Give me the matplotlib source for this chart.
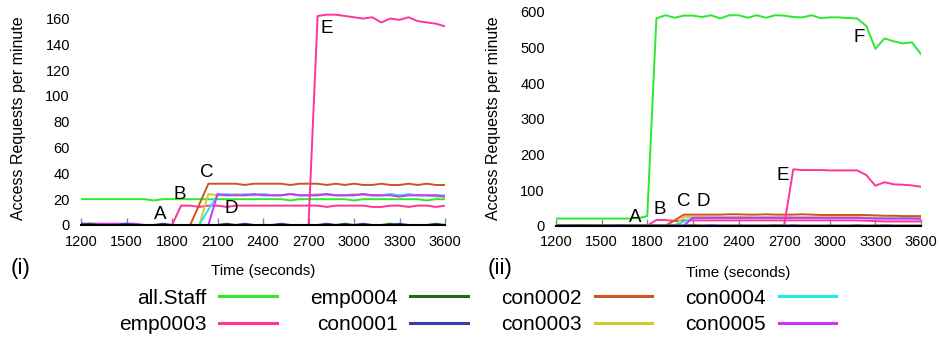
import numpy as np
import matplotlib
matplotlib.use('Agg')
import matplotlib.pyplot as plt

plt.rcParams['font.family'] = ['Liberation Sans', 'DejaVu Sans']

# time axis, one sample per minute
t = np.arange(1200, 3601, 60)
xticks = [1200, 1500, 1800, 2100, 2400, 2700, 3000, 3300, 3600]

# ---- panel (i) ----
staff_i = [20, 20, 20, 20, 20, 20, 20, 20, 19, 20, 20, 20, 20, 20, 20, 20, 20, 20, 20, 20,
           20, 20, 20, 19, 20, 20, 20, 20, 20, 20, 19, 20, 20, 20, 20, 20, 20, 20, 19, 20, 20]
emp3b_i = [0, 0, 0, 0, 0, 0, 0, 0, 0, 0, 0, 15, 15, 14, 15, 15, 14, 15, 15, 15,
           15, 15, 15, 15, 15, 15, 15, 14, 15, 15, 15, 15, 14, 14, 15, 15, 14, 15, 15, 14, 15]
emp3e_i = [0, 0, 0, 0, 0, 0, 0, 0, 0, 0, 0, 0, 0, 0, 0, 0, 0, 0, 0, 0,
           0, 0, 0, 0, 0, 0, 162, 163, 163, 162, 161, 160, 161, 157, 160, 159, 161, 158, 157, 156, 154]
emp4_i = [0, 1, 0, 0, 0, 0, 0, 0, 0, 0, 0, 0, 0, 0, 0, 0, 1, 0, 0, 0,
          0, 0, 0, 0, 0, 0, 0, 0, 0, 1, 0, 0, 0, 0, 1, 0, 0, 0, 0, 1, 0]
con1_i = [1, 0, 0, 0, 0, 1, 0, 0, 0, 1, 0, 0, 0, 0, 0, 0, 0, 0, 1, 0,
          0, 0, 1, 0, 0, 0, 0, 1, 0, 0, 0, 1, 0, 0, 0, 1, 0, 0, 0, 0, 0]
con2_i = [0, 0, 0, 0, 0, 0, 0, 0, 0, 0, 0, 0, 0, 16, 32, 32, 32, 32, 31, 32,
          32, 32, 32, 31, 32, 32, 32, 31, 32, 31, 32, 31, 31, 32, 31, 31, 32, 31, 32, 31, 31]
con3_i = [0, 0, 0, 0, 0, 0, 0, 0, 0, 0, 0, 0, 0, 0, 24, 23, 23, 24, 23, 23,
          24, 23, 23, 24, 23, 23, 24, 23, 23, 23, 24, 23, 23, 23, 24, 23, 23, 23, 23, 22, 22]
con4_i = [1, 1, 0, 0, 0, 0, 0, 0, 0, 0, 0, 0, 0, 0, 12, 23, 24, 23, 24, 23,
          24, 23, 23, 24, 23, 23, 23, 24, 23, 23, 23, 24, 23, 23, 24, 23, 24, 23, 23, 23, 23]
con5_i = [1, 1, 1, 1, 1, 1, 1, 0, 0, 0, 0, 0, 0, 0, 0, 24, 23, 23, 23, 24,
          23, 23, 23, 24, 23, 23, 23, 24, 23, 23, 23, 24, 23, 23, 23, 22, 23, 23, 23, 23, 22]

# ---- panel (ii) ----
staff_ii = [20, 20, 20, 20, 20, 20, 20, 20, 20, 21, 27, 581, 590, 583, 589, 589, 585, 590, 581, 590,
            590, 583, 590, 583, 590, 589, 585, 584, 590, 582, 584, 584, 582, 581, 560, 496, 525, 517, 511, 514, 481]
emp3b_ii = [0, 0, 0, 0, 0, 0, 0, 0, 0, 0, 0, 16, 16, 13, 15, 15, 15, 15, 15, 15,
            15, 15, 15, 15, 15, 15, 15, 15, 15, 15, 15, 15, 15, 15, 14, 13, 12, 12, 12, 12, 12]
emp3e_ii = [0, 0, 0, 0, 0, 0, 0, 0, 0, 0, 0, 0, 0, 0, 0, 0, 0, 0, 0, 0,
            0, 0, 0, 0, 0, 0, 158, 156, 156, 156, 155, 155, 155, 155, 142, 112, 122, 116, 115, 113, 109]
emp4_ii = [0, 0, 0, 1, 0, 0, 0, 0, 0, 0, 0, 0, 0, 0, 0, 1, 0, 0, 0, 0,
           0, 0, 0, 0, 1, 0, 0, 0, 0, 0, 0, 0, 0, 1, 0, 0, 0, 0, 0, 0, 0]
con1_ii = [0, 0, 1, 0, 0, 0, 0, 1, 0, 0, 0, 0, 0, 0, 0, 0, 0, 1, 0, 0,
           0, 0, 0, 0, 0, 0, 1, 0, 0, 0, 0, 0, 0, 0, 0, 0, 1, 0, 0, 0, 0]
con2_ii = [0, 0, 0, 0, 0, 0, 0, 0, 0, 0, 0, 0, 0, 15, 31, 31, 31, 31, 31, 32,
           32, 31, 31, 32, 31, 31, 31, 32, 31, 30, 30, 30, 30, 30, 30, 29, 28, 28, 27, 27, 27]
con3_ii = [0, 0, 0, 0, 0, 0, 0, 0, 0, 0, 0, 0, 0, 0, 24, 24, 25, 24, 24, 24,
           25, 24, 24, 24, 24, 25, 24, 24, 24, 24, 24, 24, 24, 24, 23, 23, 23, 22, 22, 22, 22]
con4_ii = [0, 0, 0, 0, 0, 0, 0, 0, 0, 0, 0, 0, 0, 0, 11, 22, 22, 22, 23, 22,
           22, 22, 22, 23, 22, 22, 22, 22, 22, 22, 22, 22, 22, 22, 21, 21, 20, 20, 20, 20, 20]
con5_ii = [0, 0, 0, 0, 0, 0, 0, 0, 0, 0, 0, 0, 0, 0, 0, 22, 22, 22, 22, 22,
           22, 22, 22, 22, 22, 22, 22, 22, 22, 22, 22, 22, 22, 22, 21, 20, 20, 20, 20, 20, 19]

colors = {
    'all.Staff': '#2ee82e',
    'emp0003': '#ff3399',
    'emp0004': '#226622',
    'con0001': '#3340aa',
    'con0002': '#cc5522',
    'con0003': '#cccc33',
    'con0004': '#22e8e8',
    'con0005': '#cc33ff',
}

# annotation letters: (label, x, y)
notes_i = [('A', 1720, 8.5), ('B', 1853, 24), ('C', 2030, 41), ('D', 2190, 12.5), ('E', 2823, 152)]
notes_ii = [('A', 1724, 23), ('B', 1884, 46), ('C', 2037, 69), ('D', 2168, 69), ('E', 2688, 142), ('F', 3192, 529)]

fig = plt.figure(figsize=(9.4, 3.41), dpi=100)
ax1 = fig.add_axes([0.0862, 0.3402, 0.3872, 0.6243])
ax2 = fig.add_axes([0.5915, 0.3381, 0.3883, 0.6329])

panels = [
    (ax1, staff_i, emp3b_i, emp3e_i, emp4_i, con1_i, con2_i, con3_i, con4_i, con5_i, notes_i, 165, [0, 20, 40, 60, 80, 100, 120, 140, 160]),
    (ax2, staff_ii, emp3b_ii, emp3e_ii, emp4_ii, con1_ii, con2_ii, con3_ii, con4_ii, con5_ii, notes_ii, 605, [0, 100, 200, 300, 400, 500, 600]),
]

lw = 1.4
for ax, staff, e3b, e3e, e4, c1, c2, c3, c4, c5, notes, ytop, yt in panels:
    ax.plot(t, staff, color=colors['all.Staff'], lw=lw)
    ax.plot(t, e3b, color=colors['emp0003'], lw=lw)
    ax.plot(t, c3, color=colors['con0003'], lw=lw)
    ax.plot(t, c4, color=colors['con0004'], lw=lw)
    ax.plot(t, c5, color=colors['con0005'], lw=lw)
    ax.plot(t, c2, color=colors['con0002'], lw=lw)
    ax.plot(t, e3e, color=colors['emp0003'], lw=lw)
    ax.plot(t, e4, color=colors['emp0004'], lw=lw)
    ax.plot(t, c1, color=colors['con0001'], lw=lw)
    ax.axhline(0, color='#3a2a2a', lw=1.2)

    for txt, x, y in notes:
        ax.text(x, y, txt, fontsize=13.5, ha='center', va='center')

    ax.set_xlim(1200, 3600)
    ax.set_ylim(0, ytop)
    ax.set_xticks(xticks)
    ax.set_yticks(yt)
    for s in ['top', 'right', 'left']:
        ax.spines[s].set_visible(False)
    ax.spines['bottom'].set_color('black')
    ax.spines['bottom'].set_linewidth(1.5)
    ax.tick_params(axis='x', direction='in', length=5, width=1, color='#888888',
                   labelsize=10.5, pad=7)
    ax.tick_params(axis='y', length=0, labelsize=10.5, pad=8)
    ax.set_xlabel('Time (seconds)', fontsize=11)
    ax.xaxis.set_label_coords(0.5, -0.185)
    ax.set_ylabel('Access Requests per minute', fontsize=11.5)

ax1.yaxis.set_label_coords(-0.150, 0.5)
ax2.yaxis.set_label_coords(-0.152, 0.5)

fig.text(0.022, 0.214, '(i)', fontsize=16, ha='center', va='center')
fig.text(0.532, 0.214, '(ii)', fontsize=16, ha='center', va='center')

order = ['all.Staff', 'emp0003', 'emp0004', 'con0001', 'con0002', 'con0003', 'con0004', 'con0005']
handles = [plt.Line2D([], [], color=colors[k], lw=2.2) for k in order]
fig.legend(handles, order, loc='center', bbox_to_anchor=(0.508, 0.0865), ncol=4,
           frameon=False, markerfirst=False, fontsize=15, handlelength=2.75,
           handletextpad=0.62, columnspacing=1.6, labelspacing=0.38)

fig.savefig('out.png', dpi=100)
plt.close(fig)
